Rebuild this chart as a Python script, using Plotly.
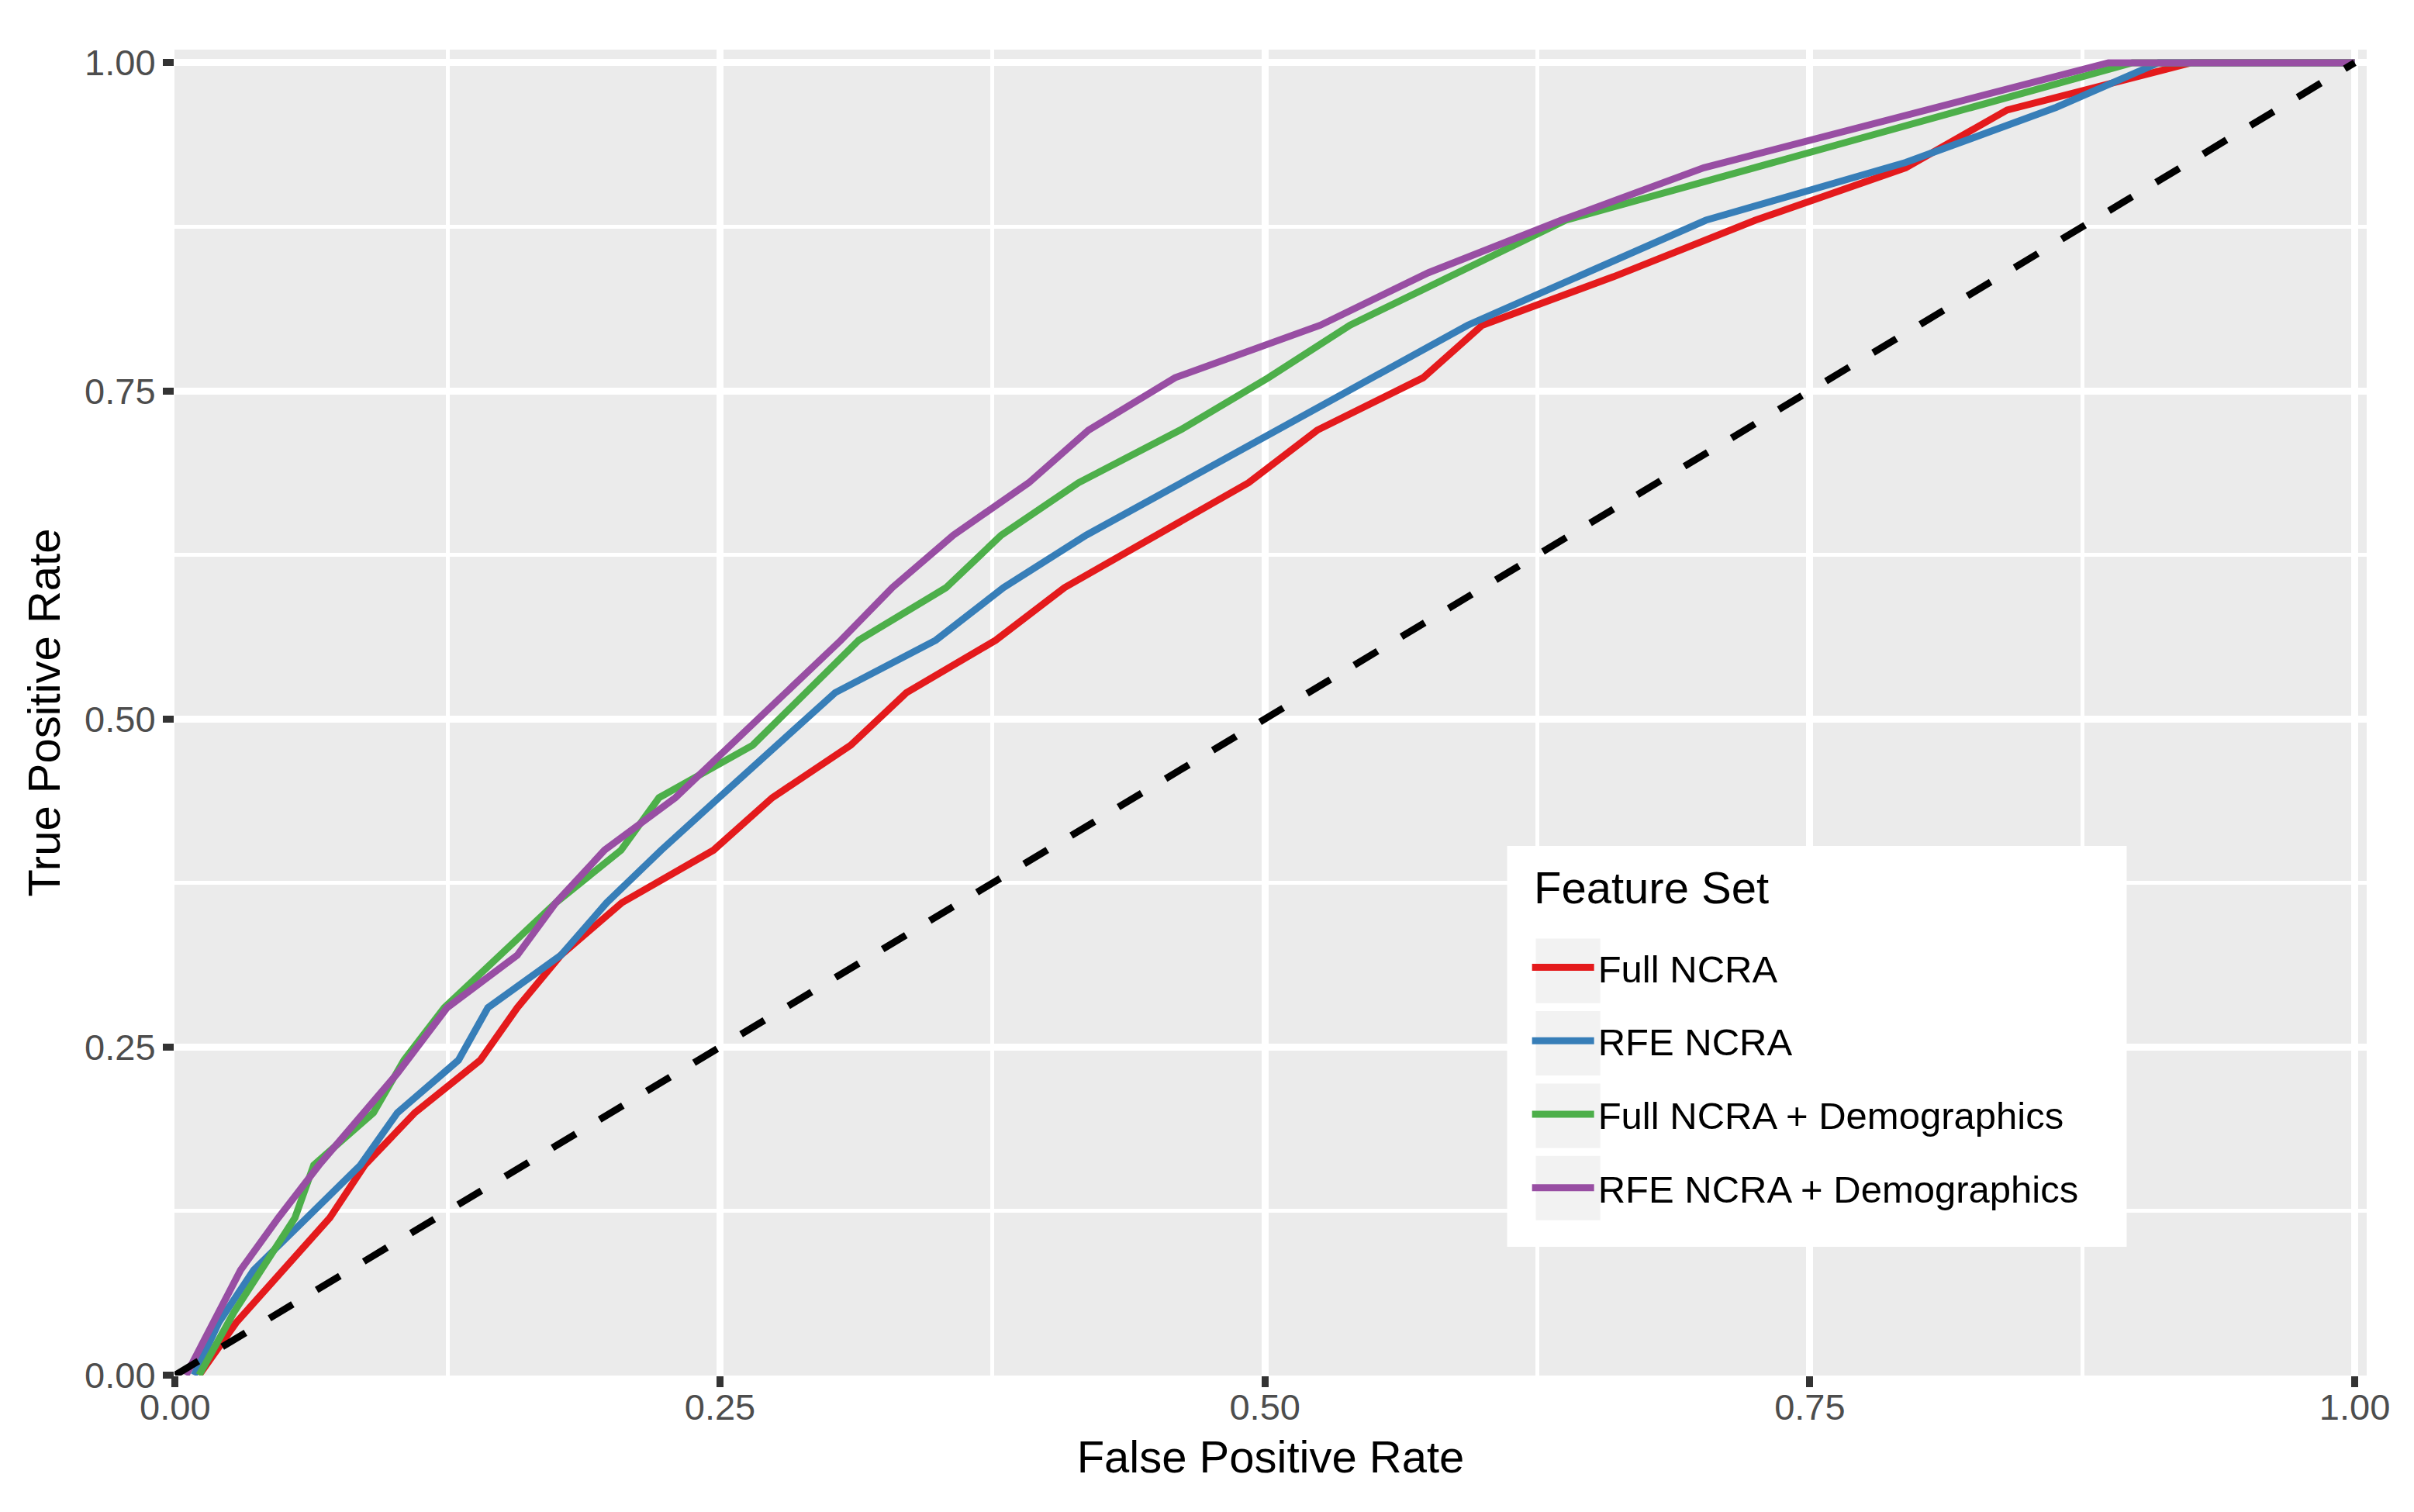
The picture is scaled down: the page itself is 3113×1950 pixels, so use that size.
import plotly.graph_objects as go

# ---- data ----
series_names = ["Full NCRA", "RFE NCRA", "Full NCRA + Demographics", "RFE NCRA + Demographics"]
series_colors = ["#E41A1C", "#377EB8", "#4DAF4A", "#984EA3"]

full_fpr = [0.011, 0.028, 0.071, 0.087, 0.110, 0.140, 0.157, 0.177, 0.205, 0.247, 0.274, 0.310,
            0.3355, 0.3765, 0.408, 0.450, 0.4925, 0.524, 0.5726, 0.5997, 0.660, 0.725, 0.794, 0.8405,
            0.8867, 0.925, 1.0]
full_tpr = [0.0, 0.04, 0.12, 0.16, 0.20, 0.24, 0.28, 0.32, 0.36, 0.40, 0.44, 0.48,
            0.52, 0.56, 0.60, 0.64, 0.68, 0.72, 0.76, 0.80, 0.837, 0.88, 0.92, 0.964,
            0.984, 1.0, 1.0]

rfe_fpr = [0.0087, 0.020, 0.036, 0.085, 0.102, 0.130, 0.1435, 0.177, 0.198, 0.223, 0.2495,
           0.3028, 0.349, 0.380, 0.418, 0.593, 0.7023, 0.794, 0.863, 0.8887, 0.910, 1.0]
rfe_tpr = [0.0, 0.04, 0.08, 0.16, 0.20, 0.24, 0.28, 0.32, 0.36, 0.40, 0.44,
           0.52, 0.56, 0.60, 0.64, 0.80, 0.88, 0.924, 0.966, 0.984, 1.0, 1.0]

fulld_fpr = [0.011, 0.027, 0.055, 0.0636, 0.091, 0.105, 0.1235, 0.1747, 0.2046, 0.222, 0.265,
             0.3137, 0.3537, 0.379, 0.4145, 0.461, 0.5016, 0.539, 0.638, 0.898, 1.0]
fulld_tpr = [0.0, 0.048, 0.12, 0.16, 0.20, 0.24, 0.28, 0.36, 0.40, 0.44, 0.48,
             0.56, 0.60, 0.64, 0.68, 0.72, 0.76, 0.80, 0.88, 1.0, 1.0]

rfed_fpr = [0.005, 0.0175, 0.030, 0.0474, 0.066, 0.102, 0.1248, 0.157, 0.1747, 0.197, 0.2295,
            0.3055, 0.329, 0.357, 0.3917, 0.419, 0.4588, 0.5254, 0.575, 0.636, 0.7014, 0.887, 1.0]
rfed_tpr = [0.0, 0.04, 0.08, 0.12, 0.16, 0.23, 0.28, 0.32, 0.36, 0.40, 0.44,
            0.56, 0.60, 0.64, 0.68, 0.72, 0.76, 0.80, 0.84, 0.88, 0.92, 1.0, 1.0]

chance_x = [0.0, 1.0]
chance_y = [0.0, 1.0]

tick_vals = [0.0, 0.25, 0.5, 0.75, 1.0]
tick_text = ["0.00", "0.25", "0.50", "0.75", "1.00"]
minor_vals = [0.125, 0.375, 0.625, 0.875]

x_title = "False Positive Rate"
y_title = "True Positive Rate"
legend_title = "Feature Set"

# ---- figure ----
FONT = "Liberation Sans, Arial, Helvetica, sans-serif"
fig = go.Figure()

all_x = [full_fpr, rfe_fpr, fulld_fpr, rfed_fpr]
all_y = [full_tpr, rfe_tpr, fulld_tpr, rfed_tpr]
for i, (nm, col, xs, ys) in enumerate(zip(series_names, series_colors, all_x, all_y)):
    fig.add_trace(go.Scatter(
        x=xs, y=ys, mode="lines", name=nm, legendgroup=f"g{i}",
        line=dict(color=col, width=9), hoverinfo="skip"))

fig.add_trace(go.Scatter(
    x=chance_x, y=chance_y, mode="lines", showlegend=False,
    line=dict(color="black", width=9, dash="35px,36px"), hoverinfo="skip"))

axis_common = dict(
    showline=False, zeroline=False,
    showgrid=True, gridcolor="white", gridwidth=8.5,
    ticks="outside", ticklen=14, tickwidth=8.5, tickcolor="#333333",
    tickfont=dict(family=FONT, size=47, color="#4D4D4D"),
    tickvals=tick_vals, ticktext=tick_text,
    minor=dict(tickvals=minor_vals, showgrid=True, gridcolor="white", gridwidth=4.5, ticks=""),
)

# legend panel geometry (paper coordinates)
box_x0, box_x1, box_y0, box_y1 = 0.6079, 0.8905, 0.0971, 0.3994
key_x0, key_x1 = 0.6210, 0.6504
key_centers = [0.3052, 0.2506, 0.1959, 0.1414]
key_half = 0.0243

shapes = [dict(type="rect", xref="paper", yref="paper", x0=box_x0, x1=box_x1, y0=box_y0, y1=box_y1,
               fillcolor="white", line=dict(width=0), layer="above")]
for c in key_centers:
    shapes.append(dict(type="rect", xref="paper", yref="paper", x0=key_x0, x1=key_x1,
                       y0=c - key_half, y1=c + key_half, fillcolor="#F2F2F2",
                       line=dict(width=0), layer="above"))

fig.update_layout(
    width=3113, height=1950,
    paper_bgcolor="white", plot_bgcolor="#EBEBEB",
    margin=dict(l=217, r=69, t=56, b=184, autoexpand=False),
    font=dict(family=FONT, color="black"),
    xaxis=dict(range=[-0.0003, 1.0055], title=dict(text=x_title, font=dict(size=58, color="black"), standoff=18),
               ticklabelstandoff=-14, **axis_common),
    yaxis=dict(range=[-0.0003, 1.010], title=dict(text=y_title, font=dict(size=58, color="black"), standoff=12),
               ticklabelstandoff=0, **axis_common),
    shapes=shapes,
    annotations=[dict(text=legend_title, xref="paper", yref="paper", x=0.6195, y=0.368,
                      xanchor="left", yanchor="middle", showarrow=False,
                      font=dict(size=58, color="black", family=FONT))],
    legend=dict(
        x=0.6175, y=0.3303, xanchor="left", yanchor="top",
        bgcolor="rgba(0,0,0,0)", borderwidth=0,
        font=dict(size=49, color="black", family=FONT),
        itemwidth=80, tracegroupgap=28, traceorder="grouped",
    ),
    showlegend=True,
)

fig.write_html("out.html")
